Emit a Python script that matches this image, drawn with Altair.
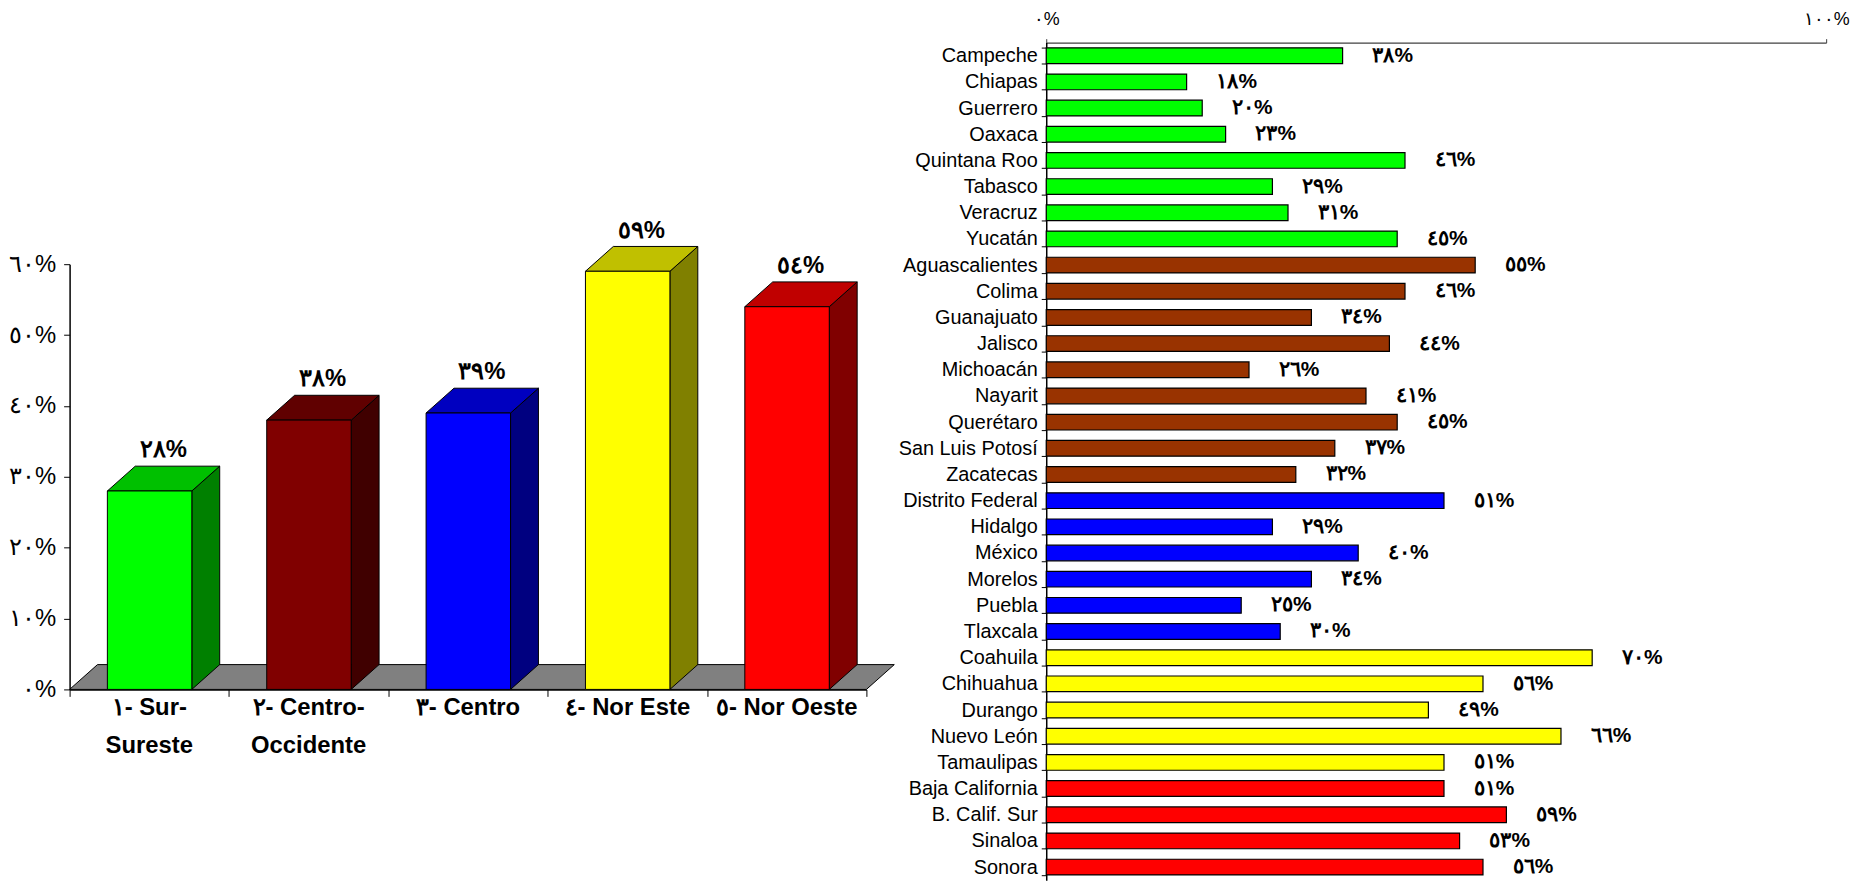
import altair as alt
import pandas as pd

# ---------------- data ----------------
regions = ["١- Sur-\nSureste", "٢- Centro-\nOccidente", "٣- Centro", "٤- Nor Este", "٥- Nor Oeste"]
region_values = [28, 38, 39, 59, 54]
front_colors = ["#00FF00", "#800000", "#0000FF", "#FFFF00", "#FF0000"]
top_colors = ["#00C000", "#600000", "#0000C0", "#C0C000", "#C00000"]
side_colors = ["#008000", "#400000", "#000080", "#808000", "#800000"]

y_ticks_left = [0, 10, 20, 30, 40, 50, 60]

states = ["Campeche", "Chiapas", "Guerrero", "Oaxaca", "Quintana Roo", "Tabasco", "Veracruz", "Yucatán",
          "Aguascalientes", "Colima", "Guanajuato", "Jalisco", "Michoacán", "Nayarit", "Querétaro",
          "San Luis Potosí", "Zacatecas",
          "Distrito Federal", "Hidalgo", "México", "Morelos", "Puebla", "Tlaxcala",
          "Coahuila", "Chihuahua", "Durango", "Nuevo León", "Tamaulipas",
          "Baja California", "B. Calif. Sur", "Sinaloa", "Sonora"]
state_values = [38, 18, 20, 23, 46, 29, 31, 45,
                55, 46, 34, 44, 26, 41, 45, 37, 32,
                51, 29, 40, 34, 25, 30,
                70, 56, 49, 66, 51,
                51, 59, 53, 56]
state_groups = ["Sur-Sureste"] * 8 + ["Centro-Occidente"] * 9 + ["Centro"] * 6 + ["Nor Este"] * 5 + ["Nor Oeste"] * 4
group_names = ["Sur-Sureste", "Centro-Occidente", "Centro", "Nor Este", "Nor Oeste"]
group_colors = ["#00FF00", "#993300", "#0000FF", "#FFFF00", "#FF0000"]
x_ticks_right = [0, 100]

# ---------------- helpers ----------------
AR = str.maketrans("0123456789", "٠١٢٣٤٥٦٧٨٩")


def ar(s):
    return s.translate(AR)


def label_expr(values):
    expr = "''"
    for v in reversed(values):
        expr = f"datum.value == {v} ? '{ar(str(v) + '%')}' : " + expr
    return expr


FONT = "Liberation Sans"
n = len(regions)

# 3D geometry (in data units of the left chart)
BAR_L, BAR_R = 0.237, 0.767
DX, DY = 0.175, 3.5

# ---------------- left chart ----------------
df_left = pd.DataFrame({
    "idx": list(range(n)),
    "region": regions,
    "value": region_values,
    "front": front_colors,
    "top": top_colors,
    "side": side_colors,
    "label": [ar(f"{v}%") for v in region_values],
})

L_H = 651
x_left = alt.Scale(domain=[0, n], nice=False, zero=False)
y_left = alt.Scale(domain=[0, 60], range=[L_H, L_H - 428], nice=False)

x_axis_left = alt.Axis(values=list(range(n + 1)), labels=False, title=None, grid=False,
                       tickSize=7, tickColor="black", domainColor="black", domainWidth=1.5)
y_axis_left = alt.Axis(values=y_ticks_left, labelExpr=label_expr(y_ticks_left), title=None,
                       grid=False, tickSize=6, tickColor="black", domainColor="black",
                       domainWidth=1.5, labelFontSize=24, labelFont=FONT, labelColor="black",
                       labelPadding=8, labelFlush=False)

base_left = alt.Chart(df_left)

floor = alt.Chart(pd.DataFrame({"n": [n]})).transform_calculate(
    k="[0, 1]"
).transform_flatten(["k"]).transform_calculate(
    fy=f"datum.k * {DY}", fx=f"datum.k * {DX}", fx2=f"datum.n + datum.k * {DX}"
).mark_area(orient="horizontal", color="#808080", stroke="black", strokeWidth=1).encode(
    y=alt.Y("fy:Q", scale=y_left, axis=y_axis_left, stack=None),
    x=alt.X("fx:Q", scale=x_left, axis=x_axis_left, stack=None),
    x2="fx2:Q",
)

side = base_left.transform_calculate(k="[0, 1]").transform_flatten(["k"]).transform_calculate(
    sx=f"datum.idx + {BAR_R} + datum.k * {DX}",
    sy=f"datum.value + datum.k * {DY}",
    sy2=f"datum.k * {DY}",
).mark_area(orient="vertical", stroke="black", strokeWidth=1).encode(
    x=alt.X("sx:Q", scale=x_left, stack=None),
    y=alt.Y("sy:Q", scale=y_left, stack=None),
    y2="sy2:Q",
    color=alt.Color("side:N", scale=None),
    detail="idx:N",
)

top = base_left.transform_calculate(k="[0, 1]").transform_flatten(["k"]).transform_calculate(
    ty=f"datum.value + datum.k * {DY}",
    tx=f"datum.idx + {BAR_L} + datum.k * {DX}",
    tx2=f"datum.idx + {BAR_R} + datum.k * {DX}",
).mark_area(orient="horizontal", stroke="black", strokeWidth=1).encode(
    y=alt.Y("ty:Q", scale=y_left, stack=None),
    x=alt.X("tx:Q", scale=x_left, stack=None),
    x2="tx2:Q",
    color=alt.Color("top:N", scale=None),
    detail="idx:N",
)

front = base_left.transform_calculate(
    xl=f"datum.idx + {BAR_L}", xr=f"datum.idx + {BAR_R}"
).mark_rect(stroke="black", strokeWidth=1).encode(
    x=alt.X("xl:Q", scale=x_left),
    x2="xr:Q",
    y=alt.Y("value:Q", scale=y_left),
    y2=alt.datum(0),
    color=alt.Color("front:N", scale=None),
)

value_labels = base_left.transform_calculate(
    lx=f"datum.idx + 0.5 + {DX / 2}", ly=f"datum.value + {DY}"
).mark_text(font=FONT, fontSize=24, fontWeight="bold", baseline="middle", dy=-16, color="black").encode(
    x=alt.X("lx:Q", scale=x_left),
    y=alt.Y("ly:Q", scale=y_left),
    text="label:N",
)

cat_labels = base_left.transform_calculate(
    cx="datum.idx + 0.5"
).mark_text(font=FONT, fontSize=24, fontWeight="bold", baseline="top", dy=7, lineBreak="\n",
            lineHeight=38, color="black").encode(
    x=alt.X("cx:Q", scale=x_left),
    y=alt.datum(0, scale=y_left),
    text="region:N",
)

left = alt.layer(floor, side, top, front, value_labels, cat_labels).properties(width=802, height=L_H)

# ---------------- right chart ----------------
df_right = pd.DataFrame({
    "state": states,
    "value": state_values,
    "group": state_groups,
    "label": [ar(f"{v}%") for v in state_values],
})

y_right = alt.Y("state:N", sort=states,
                scale=alt.Scale(paddingInner=0.4, paddingOuter=0.2),
                axis=alt.Axis(title=None, labelFontSize=20, labelFont=FONT, labelColor="black",
                              tickBand="extent", tickSize=5, tickColor="black",
                              domainColor="black", domainWidth=1.5, labelPadding=4))
x_right = alt.X("value:Q", scale=alt.Scale(domain=[0, 100], nice=False),
                axis=alt.Axis(orient="top", values=x_ticks_right, labelExpr=label_expr(x_ticks_right),
                              title=None, grid=False, tickSize=4, tickColor="#404040",
                              domainColor="#404040", domainWidth=1.5, labelFontSize=18,
                              labelFont=FONT, labelColor="black", labelPadding=10, labelFlush=False))

bars = alt.Chart(df_right).mark_bar(stroke="black", strokeWidth=1.2).encode(
    y=y_right,
    x=x_right,
    color=alt.Color("group:N", scale=alt.Scale(domain=group_names, range=group_colors), legend=None),
)

bar_text = alt.Chart(df_right).mark_text(font=FONT, fontSize=21, fontWeight="bold", align="left",
                                         baseline="middle", dx=30, color="black").encode(
    y=alt.Y("state:N", sort=states),
    x=alt.X("value:Q"),
    text="label:N",
)

right = alt.layer(bars, bar_text).properties(width=785, height=843)

chart = alt.hconcat(left, right, spacing=0).properties(padding=0).configure_view(strokeWidth=0)

chart.save("out.html", embed_options={"renderer": "svg", "actions": False})
